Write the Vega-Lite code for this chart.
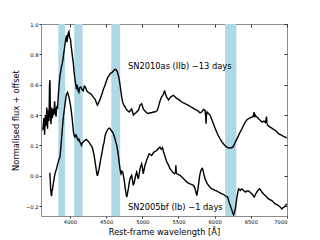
{
  "$schema": "https://vega.github.io/schema/vega-lite/v6.json",
  "width": 246,
  "height": 192,
  "autosize": {"type": "none"},
  "padding": {"left": 41, "top": 24, "right": 33, "bottom": 24},
  "config": {
    "view": {"stroke": "#8c8c8c", "strokeWidth": 1},
    "font": "DejaVu Sans",
    "axis": {"grid": false, "domain": false, "labelFont": "DejaVu Sans", "titleFont": "DejaVu Sans", "labelFontSize": 5.2, "titleFontSize": 8.3, "titleFontWeight": "normal", "labelColor": "#000", "titleColor": "#000", "tickColor": "#333", "tickSize": 2}
  },
  "resolve": {"axis": {"x": "independent", "y": "independent"}},
  "datasets": {
    "bands": [
      {"start": 3840, "end": 3932},
      {"start": 4060, "end": 4175},
      {"start": 4572, "end": 4694},
      {"start": 6145, "end": 6300}
    ],
    "SN2010as": [
      {"wl":3625,"flux":0.30},{"wl":3640,"flux":0.38},{"wl":3650,"flux":0.27},{"wl":3660,"flux":0.40},{"wl":3670,"flux":0.33},{"wl":3680,"flux":0.45},{"wl":3690,"flux":0.31},{"wl":3700,"flux":0.43},{"wl":3710,"flux":0.36},{"wl":3718,"flux":0.60},{"wl":3724,"flux":0.63},{"wl":3730,"flux":0.40},{"wl":3738,"flux":0.34},{"wl":3748,"flux":0.45},{"wl":3758,"flux":0.38},{"wl":3768,"flux":0.44},{"wl":3778,"flux":0.40},{"wl":3788,"flux":0.49},{"wl":3798,"flux":0.42},{"wl":3808,"flux":0.39},{"wl":3818,"flux":0.46},{"wl":3828,"flux":0.44},{"wl":3838,"flux":0.52},{"wl":3850,"flux":0.60},{"wl":3862,"flux":0.66},{"wl":3873,"flux":0.69},{"wl":3884,"flux":0.72},{"wl":3895,"flux":0.74},{"wl":3907,"flux":0.78},{"wl":3918,"flux":0.82},{"wl":3930,"flux":0.86},{"wl":3942,"flux":0.90},{"wl":3953,"flux":0.925},{"wl":3960,"flux":0.88},{"wl":3966,"flux":0.90},{"wl":3976,"flux":0.94},{"wl":3986,"flux":0.95},{"wl":3996,"flux":0.91},{"wl":4008,"flux":0.90},{"wl":4015,"flux":0.86},{"wl":4021,"flux":0.84},{"wl":4033,"flux":0.79},{"wl":4045,"flux":0.75},{"wl":4056,"flux":0.69},{"wl":4068,"flux":0.64},{"wl":4080,"flux":0.60},{"wl":4090,"flux":0.57},{"wl":4097,"flux":0.60},{"wl":4104,"flux":0.59},{"wl":4113,"flux":0.56},{"wl":4123,"flux":0.55},{"wl":4135,"flux":0.58},{"wl":4151,"flux":0.585},{"wl":4165,"flux":0.57},{"wl":4183,"flux":0.56},{"wl":4198,"flux":0.59},{"wl":4214,"flux":0.585},{"wl":4232,"flux":0.56},{"wl":4251,"flux":0.55},{"wl":4270,"flux":0.545},{"wl":4289,"flux":0.54},{"wl":4305,"flux":0.53},{"wl":4320,"flux":0.52},{"wl":4336,"flux":0.51},{"wl":4352,"flux":0.50},{"wl":4366,"flux":0.48},{"wl":4380,"flux":0.465},{"wl":4395,"flux":0.48},{"wl":4413,"flux":0.50},{"wl":4428,"flux":0.52},{"wl":4444,"flux":0.54},{"wl":4462,"flux":0.57},{"wl":4480,"flux":0.59},{"wl":4500,"flux":0.62},{"wl":4520,"flux":0.645},{"wl":4540,"flux":0.66},{"wl":4560,"flux":0.675},{"wl":4580,"flux":0.68},{"wl":4600,"flux":0.69},{"wl":4620,"flux":0.70},{"wl":4637,"flux":0.70},{"wl":4655,"flux":0.685},{"wl":4670,"flux":0.66},{"wl":4683,"flux":0.63},{"wl":4695,"flux":0.59},{"wl":4706,"flux":0.55},{"wl":4718,"flux":0.51},{"wl":4729,"flux":0.485},{"wl":4745,"flux":0.465},{"wl":4761,"flux":0.455},{"wl":4777,"flux":0.44},{"wl":4793,"flux":0.43},{"wl":4808,"flux":0.425},{"wl":4820,"flux":0.42},{"wl":4835,"flux":0.43},{"wl":4853,"flux":0.44},{"wl":4865,"flux":0.42},{"wl":4876,"flux":0.40},{"wl":4895,"flux":0.41},{"wl":4913,"flux":0.415},{"wl":4930,"flux":0.425},{"wl":4945,"flux":0.43},{"wl":4958,"flux":0.45},{"wl":4968,"flux":0.465},{"wl":4980,"flux":0.47},{"wl":4991,"flux":0.475},{"wl":5002,"flux":0.46},{"wl":5013,"flux":0.44},{"wl":5030,"flux":0.43},{"wl":5050,"flux":0.42},{"wl":5065,"flux":0.415},{"wl":5082,"flux":0.41},{"wl":5105,"flux":0.415},{"wl":5129,"flux":0.415},{"wl":5150,"flux":0.42},{"wl":5174,"flux":0.42},{"wl":5190,"flux":0.425},{"wl":5206,"flux":0.43},{"wl":5220,"flux":0.45},{"wl":5234,"flux":0.475},{"wl":5250,"flux":0.50},{"wl":5267,"flux":0.52},{"wl":5283,"flux":0.53},{"wl":5298,"flux":0.545},{"wl":5308,"flux":0.563},{"wl":5320,"flux":0.54},{"wl":5335,"flux":0.52},{"wl":5350,"flux":0.51},{"wl":5363,"flux":0.50},{"wl":5378,"flux":0.51},{"wl":5395,"flux":0.52},{"wl":5410,"flux":0.525},{"wl":5432,"flux":0.53},{"wl":5450,"flux":0.52},{"wl":5477,"flux":0.51},{"wl":5510,"flux":0.50},{"wl":5546,"flux":0.486},{"wl":5590,"flux":0.475},{"wl":5639,"flux":0.464},{"wl":5685,"flux":0.45},{"wl":5729,"flux":0.438},{"wl":5765,"flux":0.43},{"wl":5798,"flux":0.415},{"wl":5820,"flux":0.42},{"wl":5845,"flux":0.438},{"wl":5858,"flux":0.435},{"wl":5867,"flux":0.43},{"wl":5875,"flux":0.40},{"wl":5881,"flux":0.343},{"wl":5887,"flux":0.40},{"wl":5895,"flux":0.42},{"wl":5915,"flux":0.41},{"wl":5936,"flux":0.40},{"wl":5960,"flux":0.37},{"wl":5983,"flux":0.343},{"wl":6005,"flux":0.315},{"wl":6028,"flux":0.288},{"wl":6050,"flux":0.265},{"wl":6074,"flux":0.244},{"wl":6098,"flux":0.225},{"wl":6121,"flux":0.211},{"wl":6145,"flux":0.198},{"wl":6166,"flux":0.189},{"wl":6190,"flux":0.185},{"wl":6217,"flux":0.183},{"wl":6240,"flux":0.186},{"wl":6253,"flux":0.19},{"wl":6270,"flux":0.205},{"wl":6286,"flux":0.222},{"wl":6310,"flux":0.245},{"wl":6331,"flux":0.266},{"wl":6355,"flux":0.29},{"wl":6377,"flux":0.31},{"wl":6400,"flux":0.333},{"wl":6424,"flux":0.354},{"wl":6445,"flux":0.368},{"wl":6469,"flux":0.376},{"wl":6490,"flux":0.382},{"wl":6515,"flux":0.387},{"wl":6535,"flux":0.395},{"wl":6545,"flux":0.42},{"wl":6550,"flux":0.385},{"wl":6562,"flux":0.40},{"wl":6575,"flux":0.39},{"wl":6584,"flux":0.387},{"wl":6595,"flux":0.385},{"wl":6607,"flux":0.376},{"wl":6630,"flux":0.365},{"wl":6653,"flux":0.354},{"wl":6680,"flux":0.36},{"wl":6700,"flux":0.35},{"wl":6718,"flux":0.39},{"wl":6722,"flux":0.35},{"wl":6735,"flux":0.332},{"wl":6760,"flux":0.322},{"wl":6790,"flux":0.314},{"wl":6815,"flux":0.305},{"wl":6837,"flux":0.30},{"wl":6860,"flux":0.29},{"wl":6882,"flux":0.277},{"wl":6905,"flux":0.272},{"wl":6928,"flux":0.266},{"wl":6950,"flux":0.26},{"wl":6975,"flux":0.255},{"wl":6997,"flux":0.249}
    ],
    "SN2005bf": [
      {"wl":3722,"flux":0.02},{"wl":3728,"flux":-0.03},{"wl":3733,"flux":-0.086},{"wl":3740,"flux":-0.12},{"wl":3746,"flux":-0.134},{"wl":3752,"flux":-0.10},{"wl":3760,"flux":-0.086},{"wl":3767,"flux":-0.06},{"wl":3774,"flux":-0.04},{"wl":3784,"flux":-0.01},{"wl":3793,"flux":0.013},{"wl":3804,"flux":0.03},{"wl":3815,"flux":0.046},{"wl":3826,"flux":0.07},{"wl":3838,"flux":0.09},{"wl":3850,"flux":0.11},{"wl":3862,"flux":0.123},{"wl":3873,"flux":0.18},{"wl":3884,"flux":0.244},{"wl":3895,"flux":0.31},{"wl":3907,"flux":0.376},{"wl":3918,"flux":0.42},{"wl":3930,"flux":0.464},{"wl":3942,"flux":0.51},{"wl":3953,"flux":0.54},{"wl":3960,"flux":0.545},{"wl":3966,"flux":0.55},{"wl":3976,"flux":0.535},{"wl":3986,"flux":0.52},{"wl":3997,"flux":0.49},{"wl":4008,"flux":0.464},{"wl":4020,"flux":0.42},{"wl":4031,"flux":0.376},{"wl":4040,"flux":0.33},{"wl":4049,"flux":0.288},{"wl":4058,"flux":0.265},{"wl":4068,"flux":0.255},{"wl":4078,"flux":0.27},{"wl":4090,"flux":0.266},{"wl":4102,"flux":0.245},{"wl":4114,"flux":0.233},{"wl":4125,"flux":0.24},{"wl":4137,"flux":0.222},{"wl":4148,"flux":0.215},{"wl":4159,"flux":0.20},{"wl":4170,"flux":0.215},{"wl":4183,"flux":0.222},{"wl":4195,"flux":0.228},{"wl":4206,"flux":0.233},{"wl":4225,"flux":0.24},{"wl":4242,"flux":0.233},{"wl":4258,"flux":0.225},{"wl":4275,"flux":0.211},{"wl":4290,"flux":0.20},{"wl":4307,"flux":0.189},{"wl":4320,"flux":0.165},{"wl":4334,"flux":0.134},{"wl":4348,"flux":0.09},{"wl":4362,"flux":0.046},{"wl":4372,"flux":0.015},{"wl":4380,"flux":0.0},{"wl":4390,"flux":0.02},{"wl":4403,"flux":0.046},{"wl":4415,"flux":0.08},{"wl":4426,"flux":0.112},{"wl":4438,"flux":0.14},{"wl":4449,"flux":0.167},{"wl":4460,"flux":0.20},{"wl":4472,"flux":0.22},{"wl":4486,"flux":0.266},{"wl":4500,"flux":0.285},{"wl":4517,"flux":0.30},{"wl":4530,"flux":0.31},{"wl":4545,"flux":0.314},{"wl":4556,"flux":0.31},{"wl":4568,"flux":0.30},{"wl":4585,"flux":0.29},{"wl":4600,"flux":0.277},{"wl":4612,"flux":0.26},{"wl":4623,"flux":0.244},{"wl":4635,"flux":0.22},{"wl":4647,"flux":0.20},{"wl":4658,"flux":0.17},{"wl":4669,"flux":0.134},{"wl":4680,"flux":0.09},{"wl":4692,"flux":0.046},{"wl":4699,"flux":0.025},{"wl":4706,"flux":0.013},{"wl":4718,"flux":0.03},{"wl":4729,"flux":0.024},{"wl":4738,"flux":0.005},{"wl":4747,"flux":-0.02},{"wl":4756,"flux":-0.05},{"wl":4765,"flux":-0.086},{"wl":4775,"flux":-0.115},{"wl":4785,"flux":-0.14},{"wl":4796,"flux":-0.115},{"wl":4807,"flux":-0.086},{"wl":4818,"flux":-0.05},{"wl":4830,"flux":-0.02},{"wl":4842,"flux":-0.005},{"wl":4853,"flux":0.003},{"wl":4865,"flux":-0.03},{"wl":4876,"flux":-0.063},{"wl":4888,"flux":-0.045},{"wl":4899,"flux":-0.02},{"wl":4910,"flux":0.005},{"wl":4922,"flux":0.024},{"wl":4934,"flux":0.0},{"wl":4945,"flux":-0.02},{"wl":4956,"flux":0.01},{"wl":4968,"flux":0.046},{"wl":4980,"flux":0.065},{"wl":4991,"flux":0.079},{"wl":5002,"flux":0.05},{"wl":5013,"flux":0.013},{"wl":5025,"flux":0.04},{"wl":5037,"flux":0.069},{"wl":5052,"flux":0.09},{"wl":5068,"flux":0.112},{"wl":5082,"flux":0.13},{"wl":5096,"flux":0.145},{"wl":5112,"flux":0.14},{"wl":5129,"flux":0.134},{"wl":5145,"flux":0.145},{"wl":5161,"flux":0.156},{"wl":5180,"flux":0.16},{"wl":5198,"flux":0.167},{"wl":5210,"flux":0.17},{"wl":5220,"flux":0.178},{"wl":5232,"flux":0.185},{"wl":5243,"flux":0.189},{"wl":5255,"flux":0.178},{"wl":5267,"flux":0.175},{"wl":5280,"flux":0.185},{"wl":5294,"flux":0.156},{"wl":5306,"flux":0.14},{"wl":5317,"flux":0.123},{"wl":5328,"flux":0.105},{"wl":5340,"flux":0.09},{"wl":5352,"flux":0.08},{"wl":5363,"flux":0.069},{"wl":5375,"flux":0.055},{"wl":5386,"flux":0.046},{"wl":5400,"flux":0.035},{"wl":5418,"flux":0.024},{"wl":5432,"flux":0.018},{"wl":5446,"flux":0.013},{"wl":5458,"flux":0.02},{"wl":5464,"flux":0.069},{"wl":5470,"flux":0.02},{"wl":5477,"flux":0.013},{"wl":5500,"flux":0.008},{"wl":5523,"flux":0.003},{"wl":5546,"flux":-0.008},{"wl":5570,"flux":-0.02},{"wl":5592,"flux":-0.03},{"wl":5615,"flux":-0.042},{"wl":5640,"flux":-0.048},{"wl":5661,"flux":-0.053},{"wl":5685,"flux":-0.058},{"wl":5707,"flux":-0.063},{"wl":5720,"flux":-0.075},{"wl":5729,"flux":-0.086},{"wl":5740,"flux":-0.105},{"wl":5753,"flux":-0.13},{"wl":5765,"flux":-0.10},{"wl":5776,"flux":-0.063},{"wl":5787,"flux":-0.02},{"wl":5798,"flux":0.013},{"wl":5810,"flux":0.035},{"wl":5822,"flux":0.046},{"wl":5831,"flux":0.049},{"wl":5845,"flux":0.024},{"wl":5856,"flux":0.0},{"wl":5867,"flux":-0.02},{"wl":5890,"flux":-0.045},{"wl":5914,"flux":-0.063},{"wl":5937,"flux":-0.075},{"wl":5960,"flux":-0.086},{"wl":5982,"flux":-0.09},{"wl":6005,"flux":-0.096},{"wl":6028,"flux":-0.10},{"wl":6052,"flux":-0.107},{"wl":6075,"flux":-0.113},{"wl":6097,"flux":-0.119},{"wl":6120,"flux":-0.122},{"wl":6143,"flux":-0.13},{"wl":6160,"flux":-0.135},{"wl":6180,"flux":-0.14},{"wl":6195,"flux":-0.165},{"wl":6207,"flux":-0.185},{"wl":6223,"flux":-0.205},{"wl":6239,"flux":-0.228},{"wl":6250,"flux":-0.245},{"wl":6262,"flux":-0.257},{"wl":6274,"flux":-0.24},{"wl":6286,"flux":-0.218},{"wl":6297,"flux":-0.18},{"wl":6308,"flux":-0.14},{"wl":6320,"flux":-0.11},{"wl":6331,"flux":-0.086},{"wl":6343,"flux":-0.09},{"wl":6355,"flux":-0.096},{"wl":6366,"flux":-0.09},{"wl":6377,"flux":-0.086},{"wl":6400,"flux":-0.097},{"wl":6424,"flux":-0.107},{"wl":6446,"flux":-0.10},{"wl":6469,"flux":-0.10},{"wl":6492,"flux":-0.11},{"wl":6515,"flux":-0.119},{"wl":6532,"flux":-0.13},{"wl":6548,"flux":-0.14},{"wl":6566,"flux":-0.12},{"wl":6584,"flux":-0.107},{"wl":6602,"flux":-0.095},{"wl":6621,"flux":-0.086},{"wl":6637,"flux":-0.095},{"wl":6653,"flux":-0.107},{"wl":6676,"flux":-0.12},{"wl":6699,"flux":-0.13},{"wl":6720,"flux":-0.14},{"wl":6744,"flux":-0.152},{"wl":6767,"flux":-0.158},{"wl":6790,"flux":-0.163},{"wl":6815,"flux":-0.175},{"wl":6837,"flux":-0.185},{"wl":6860,"flux":-0.19},{"wl":6882,"flux":-0.196},{"wl":6905,"flux":-0.205},{"wl":6928,"flux":-0.218},{"wl":6945,"flux":-0.21},{"wl":6961,"flux":-0.207},{"wl":6980,"flux":-0.195},{"wl":6997,"flux":-0.185}
    ]
  },
  "layer": [
    {
      "data": {"name": "bands"},
      "mark": {"type": "rect", "color": "#add8e6", "opacity": 1},
      "encoding": {
        "x": {"field": "start", "type": "quantitative", "scale": {"domain": [3600, 7000], "nice": false, "zero": false},
              "axis": {"orient": "top", "labels": false, "title": null, "values": [4000, 4500, 5000, 5500, 6000, 6500, 7000], "tickSize": -3}},
        "x2": {"field": "end"}
      }
    },
    {
      "data": {"name": "SN2010as"},
      "mark": {"type": "line", "color": "black", "strokeWidth": 1.4, "clip": true},
      "encoding": {
        "x": {"field": "wl", "type": "quantitative", "scale": {"domain": [3600, 7000], "nice": false, "zero": false},
              "axis": {"values": [4000, 4500, 5000, 5500, 6000, 6500, 7000], "format": "d", "title": "Rest-frame wavelength [Å]", "labelPadding": 1, "titlePadding": 3}},
        "y": {"field": "flux", "type": "quantitative", "scale": {"domain": [-0.265, 1.0], "nice": false, "zero": false},
              "axis": {"values": [-0.2, 0, 0.2, 0.4, 0.6, 0.8, 1.0], "format": ".1f", "title": "Normalised flux + offset", "titlePadding": 5, "labelPadding": 1}}
      }
    },
    {
      "data": {"name": "SN2005bf"},
      "mark": {"type": "line", "color": "black", "strokeWidth": 1.4, "clip": true},
      "encoding": {
        "x": {"field": "wl", "type": "quantitative", "scale": {"domain": [3600, 7000], "nice": false, "zero": false}, "axis": null},
        "y": {"field": "flux", "type": "quantitative", "scale": {"domain": [-0.265, 1.0], "nice": false, "zero": false},
              "axis": {"orient": "right", "labels": false, "title": null, "values": [-0.2, 0, 0.2, 0.4, 0.6, 0.8, 1.0], "tickSize": -3}}
      }
    },
    {
      "data": {"values": [{"label": "SN2010as (IIb) −13 days"}]},
      "mark": {"type": "text", "align": "left", "baseline": "middle", "fontSize": 8.3, "font": "DejaVu Sans", "color": "black"},
      "encoding": {
        "x": {"datum": 4802, "type": "quantitative", "scale": {"domain": [3600, 7000], "nice": false, "zero": false}, "axis": null},
        "y": {"datum": 0.718, "type": "quantitative", "scale": {"domain": [-0.265, 1.0], "nice": false, "zero": false}, "axis": null},
        "text": {"field": "label"}
      }
    },
    {
      "data": {"values": [{"label": "SN2005bf (Ib) −1 days"}]},
      "mark": {"type": "text", "align": "left", "baseline": "middle", "fontSize": 8.3, "font": "DejaVu Sans", "color": "black"},
      "encoding": {
        "x": {"datum": 4802, "type": "quantitative", "scale": {"domain": [3600, 7000], "nice": false, "zero": false}, "axis": null},
        "y": {"datum": -0.215, "type": "quantitative", "scale": {"domain": [-0.265, 1.0], "nice": false, "zero": false}, "axis": null},
        "text": {"field": "label"}
      }
    }
  ]
}
